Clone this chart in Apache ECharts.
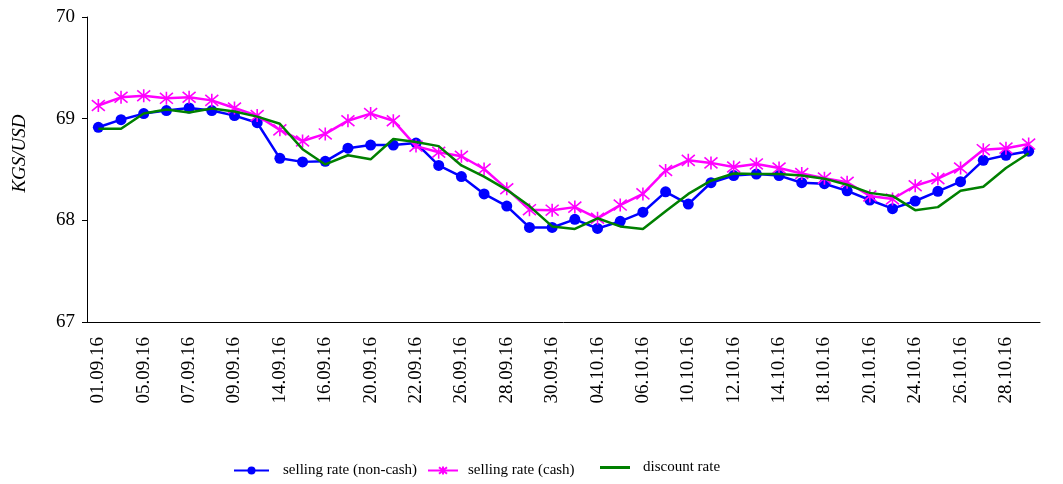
<!DOCTYPE html>
<html>
<head>
<meta charset="utf-8">
<script src="https://cdn.jsdelivr.net/npm/echarts@6/dist/echarts.min.js"></script>
<style>
html,body{margin:0;padding:0;background:#fff;}
#main{width:1063px;height:484px;}
</style>
</head>
<body>
<div id="main"></div>
<script>
// dates (business days, Sep-Oct 2016)
var dates = ['01.09.16','02.09.16','05.09.16','06.09.16','07.09.16','08.09.16','09.09.16','13.09.16',
  '14.09.16','15.09.16','16.09.16','19.09.16','20.09.16','21.09.16','22.09.16','23.09.16',
  '26.09.16','27.09.16','28.09.16','29.09.16','30.09.16','03.10.16','04.10.16','05.10.16',
  '06.10.16','07.10.16','10.10.16','11.10.16','12.10.16','13.10.16','14.10.16','17.10.16',
  '18.10.16','19.10.16','20.10.16','21.10.16','24.10.16','25.10.16','26.10.16','27.10.16',
  '28.10.16','31.10.16'];

var nonCash = [68.915,68.99,69.05,69.08,69.105,69.08,69.03,68.96,68.61,68.575,68.58,68.71,68.74,68.74,68.76,
  68.54,68.43,68.26,68.14,67.93,67.93,68.01,67.92,67.99,68.08,68.28,68.16,68.37,68.44,
  68.455,68.44,68.37,68.36,68.29,68.20,68.115,68.19,68.285,68.38,68.59,68.64,68.68];

var cash = [69.13,69.21,69.225,69.20,69.21,69.18,69.105,69.03,68.89,68.78,68.85,68.98,69.05,68.98,68.73,
  68.67,68.63,68.505,68.31,68.105,68.10,68.13,68.02,68.15,68.26,68.49,68.59,68.565,68.525,
  68.555,68.515,68.46,68.415,68.375,68.24,68.21,68.34,68.41,68.515,68.695,68.71,68.75];

var discount = [68.90,68.90,69.05,69.09,69.06,69.10,69.07,69.02,68.95,68.70,68.55,68.64,68.60,68.80,68.77,
  68.73,68.54,68.43,68.30,68.14,67.94,67.915,68.02,67.94,67.915,68.09,68.26,68.39,68.46,
  68.455,68.455,68.44,68.41,68.35,68.27,68.24,68.10,68.13,68.29,68.33,68.515,68.66];

var serif = "'Liberation Serif','Times New Roman',serif";
var starPath = 'path://M0 0 L20 20 M20 0 L0 20 M10 -2 L10 22';

var myChart = echarts.init(document.getElementById('main'));
var option = {
  animation: false,
  grid: { left: 87, right: 23, top: 17, bottom: 162 },
  legend: [
    { data: ['selling rate (non-cash)'], left: 228, top: 458, itemWidth: 35, itemHeight: 10,
      textStyle: { fontFamily: serif, fontSize: 15, color: '#000', padding: [0, 0, 0, 9] } },
    { data: ['selling rate (cash)'], left: 422, top: 458, itemWidth: 30, itemHeight: 10,
      textStyle: { fontFamily: serif, fontSize: 15, color: '#000', padding: [0, 0, 0, 5] } },
    { data: [{ name: 'discount rate', icon: 'rect' }], left: 595, top: 455, itemWidth: 30, itemHeight: 3,
      textStyle: { fontFamily: serif, fontSize: 15, color: '#000', padding: [0, 0, 0, 8] } }
  ],
  xAxis: {
    type: 'category',
    data: dates,
    boundaryGap: true,
    axisLine: { lineStyle: { color: '#000', width: 1 } },
    axisTick: { interval: 0, length: 5, lineStyle: { color: '#000' } },
    axisLabel: { interval: 1, rotate: 90, margin: 15, fontFamily: serif, fontSize: 19, color: '#000' },
    splitLine: { show: false }
  },
  yAxis: {
    type: 'value',
    min: 67, max: 70, interval: 1,
    name: 'KGS/USD',
    nameLocation: 'middle',
    nameGap: 58,
    nameRotate: 90,
    nameTextStyle: { fontFamily: serif, fontSize: 19, fontStyle: 'italic', color: '#000', padding: [0, 0, 0, 32] },
    axisLine: { show: true, lineStyle: { color: '#000', width: 1 } },
    axisTick: { show: true, length: 5, lineStyle: { color: '#000' } },
    axisLabel: { margin: 12, fontFamily: serif, fontSize: 19, color: '#000' },
    splitLine: { show: false }
  },
  series: [
    {
      name: 'selling rate (non-cash)', type: 'line', data: nonCash,
      symbol: 'circle', symbolSize: 11, showSymbol: true,
      lineStyle: { color: '#0000ff', width: 2.5 },
      itemStyle: { color: '#0000ff' },
      z: 3
    },
    {
      name: 'selling rate (cash)', type: 'line', data: cash,
      symbol: starPath, symbolSize: 13,
      lineStyle: { color: '#ff00ff', width: 2.5 },
      itemStyle: { color: '#ff00ff', borderColor: '#ff00ff', borderWidth: 1.6 },
      z: 4
    },
    {
      name: 'discount rate', type: 'line', data: discount,
      symbol: 'none',
      lineStyle: { color: '#008000', width: 2.5 },
      itemStyle: { color: '#008000' },
      z: 5
    }
  ]
};
myChart.setOption(option);
</script>
</body>
</html>
